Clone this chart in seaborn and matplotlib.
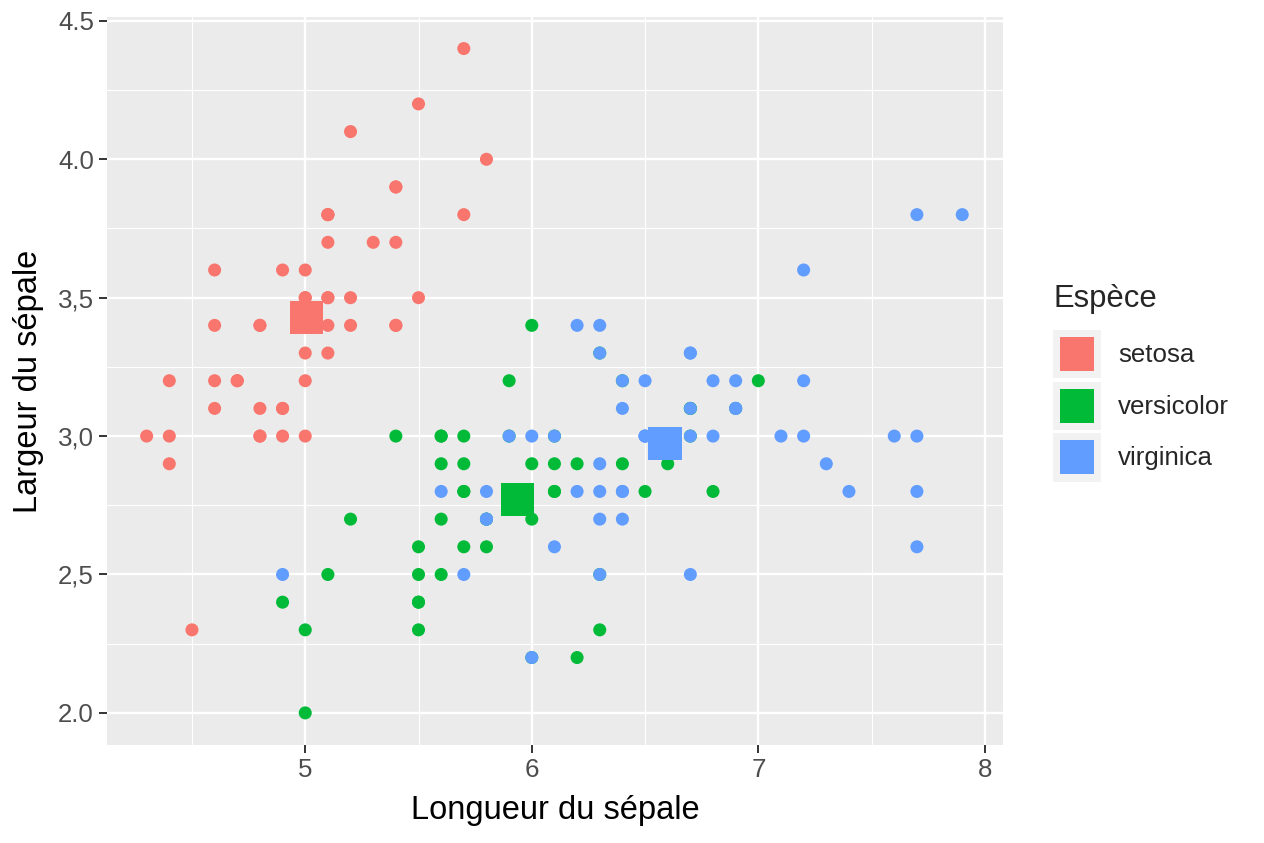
import numpy as np
import pandas as pd
import matplotlib
matplotlib.use("Agg")
import matplotlib.pyplot as plt
import seaborn as sns
from matplotlib.patches import Rectangle
from matplotlib.legend_handler import HandlerTuple, HandlerPatch

# ---------------- data ----------------
species = ["setosa", "versicolor", "virginica"]

setosa_len = [5.1, 4.9, 4.7, 4.6, 5.0, 5.4, 4.6, 5.0, 4.4, 4.9, 5.4, 4.8, 4.8, 4.3, 5.8, 5.7, 5.4,
              5.1, 5.7, 5.1, 5.4, 5.1, 4.6, 5.1, 4.8, 5.0, 5.0, 5.2, 5.2, 4.7, 4.8, 5.4, 5.2, 5.5,
              4.9, 5.0, 5.5, 4.9, 4.4, 5.1, 5.0, 4.5, 4.4, 5.0, 5.1, 4.8, 5.1, 4.6, 5.3, 5.0]
setosa_wid = [3.5, 3.0, 3.2, 3.1, 3.6, 3.9, 3.4, 3.4, 2.9, 3.1, 3.7, 3.4, 3.0, 3.0, 4.0, 4.4, 3.9,
              3.5, 3.8, 3.8, 3.4, 3.7, 3.6, 3.3, 3.4, 3.0, 3.4, 3.5, 3.4, 3.2, 3.1, 3.4, 4.1, 4.2,
              3.1, 3.2, 3.5, 3.6, 3.0, 3.4, 3.5, 2.3, 3.2, 3.5, 3.8, 3.0, 3.8, 3.2, 3.7, 3.3]

versicolor_len = [7.0, 6.4, 6.9, 5.5, 6.5, 5.7, 6.3, 4.9, 6.6, 5.2, 5.0, 5.9, 6.0, 6.1, 5.6, 6.7, 5.6,
                  5.8, 6.2, 5.6, 5.9, 6.1, 6.3, 6.1, 6.4, 6.6, 6.8, 6.7, 6.0, 5.7, 5.5, 5.5, 5.8, 6.0,
                  5.4, 6.0, 6.7, 6.3, 5.6, 5.5, 5.5, 6.1, 5.8, 5.0, 5.6, 5.7, 5.7, 6.2, 5.1, 5.7]
versicolor_wid = [3.2, 3.2, 3.1, 2.3, 2.8, 2.8, 3.3, 2.4, 2.9, 2.7, 2.0, 3.0, 2.2, 2.9, 2.9, 3.1, 3.0,
                  2.7, 2.2, 2.5, 3.2, 2.8, 2.5, 2.8, 2.9, 3.0, 2.8, 3.0, 2.9, 2.6, 2.4, 2.4, 2.7, 2.7,
                  3.0, 3.4, 3.1, 2.3, 3.0, 2.5, 2.6, 3.0, 2.6, 2.3, 2.7, 3.0, 2.9, 2.9, 2.5, 2.8]

virginica_len = [6.3, 5.8, 7.1, 6.3, 6.5, 7.6, 4.9, 7.3, 6.7, 7.2, 6.5, 6.4, 6.8, 5.7, 5.8, 6.4, 6.5,
                 7.7, 7.7, 6.0, 6.9, 5.6, 7.7, 6.3, 6.7, 7.2, 6.2, 6.1, 6.4, 7.2, 7.4, 7.9, 6.4, 6.3,
                 6.1, 7.7, 6.3, 6.4, 6.0, 6.9, 6.7, 6.9, 5.8, 6.8, 6.7, 6.7, 6.3, 6.5, 6.2, 5.9]
virginica_wid = [3.3, 2.7, 3.0, 2.9, 3.0, 3.0, 2.5, 2.9, 2.5, 3.6, 3.2, 2.7, 3.0, 2.5, 2.8, 3.2, 3.0,
                 3.8, 2.6, 2.2, 3.2, 2.8, 2.8, 2.7, 3.3, 3.2, 2.8, 3.0, 2.8, 3.0, 2.8, 3.8, 2.8, 2.8,
                 2.6, 3.0, 3.4, 3.1, 3.0, 3.1, 3.1, 3.1, 2.7, 3.2, 3.3, 3.0, 2.5, 3.0, 3.4, 3.0]

x_ticks = [5, 6, 7, 8]
x_tick_labels = ["5", "6", "7", "8"]
y_ticks = [2.0, 2.5, 3.0, 3.5, 4.0, 4.5]
y_tick_labels = ["2.0", "2,5", "3,0", "3,5", "4.0", "4.5"]

x_title = "Longueur du sépale"
y_title = "Largeur du sépale"
legend_title = "Espèce"

colors = ["#F8766D", "#00BA38", "#619CFF"]

# ---------------- frames ----------------
df = pd.DataFrame({
    "Longueur": setosa_len + versicolor_len + virginica_len,
    "Largeur": setosa_wid + versicolor_wid + virginica_wid,
    "Espèce": ["setosa"] * len(setosa_len) + ["versicolor"] * len(versicolor_len)
              + ["virginica"] * len(virginica_len),
})
centroids = df.groupby("Espèce", sort=False)[["Longueur", "Largeur"]].mean().reset_index()

# ---------------- style ----------------
sns.set_style("darkgrid", {"axes.facecolor": "#EBEBEB", "grid.color": "white"})
plt.rcParams["font.family"] = ["Liberation Sans", "DejaVu Sans"]

W, H = 1264, 843
fig = plt.figure(figsize=(W / 100, H / 100), dpi=100)
fig.patch.set_facecolor("white")
left, right, top, bottom = 107, 1003, 17, 745
ax = fig.add_axes([left / W, 1 - bottom / H, (right - left) / W, (bottom - top) / H])
ax.set_facecolor("#EBEBEB")

pal = dict(zip(species, colors))
sns.scatterplot(data=df, x="Longueur", y="Largeur", hue="Espèce", hue_order=species,
                palette=pal, s=88, linewidth=0, legend=False, ax=ax, zorder=3)
sns.scatterplot(data=centroids, x="Longueur", y="Largeur", hue="Espèce", hue_order=species,
                palette=pal, marker="s", s=580, linewidth=0, legend=False, ax=ax, zorder=4)

ax.set_xlim(4.125, 8.08)
ax.set_ylim(1.884, 4.514)
ax.set_xticks(x_ticks)
ax.set_xticklabels(x_tick_labels)
ax.set_yticks(y_ticks)
ax.set_yticklabels(y_tick_labels)
ax.set_xticks([4.5, 5.5, 6.5, 7.5], minor=True)
ax.set_yticks([2.25, 2.75, 3.25, 3.75, 4.25], minor=True)

ax.grid(which="major", color="white", linewidth=1.7)
ax.grid(which="minor", color="white", linewidth=0.85)
ax.set_axisbelow(True)
for sp in ax.spines.values():
    sp.set_visible(False)

ax.tick_params(which="major", length=5.8, width=1.4, color="#333333",
               labelsize=18.6, labelcolor="#4D4D4D", pad=3.6,
               bottom=True, left=True)
ax.tick_params(which="minor", length=0)

ax.set_xlabel(x_title, fontsize=23.5, color="black", labelpad=9)
ax.set_ylabel(y_title, fontsize=23.5, color="black", labelpad=10)


# legend: grey key background with a centred coloured square (ggplot style)
class KeySquare(Rectangle):
    pass


def centred_square(legend, orig_handle, xdescent, ydescent, width, height, fontsize):
    size = 24.5  # points
    cx = -xdescent + width / 2
    cy = -ydescent + height / 2
    return Rectangle((cx - size / 2, cy - size / 2), size, size)


handles = [(Rectangle((0, 0), 1, 1, facecolor="#F2F2F2", edgecolor="none"),
            KeySquare((0, 0), 1, 1, facecolor=c, edgecolor="none"))
           for c in colors]
leg = fig.legend(handles, species,
                 handler_map={tuple: HandlerTuple(ndivide=1),
                              KeySquare: HandlerPatch(patch_func=centred_square)},
                 title=legend_title, title_fontsize=22.3, fontsize=18.6,
                 frameon=False, loc="upper left",
                 bbox_to_anchor=(1053 / W, 1 - 284 / H), bbox_transform=fig.transFigure,
                 borderpad=0, borderaxespad=0, handlelength=1.86, handleheight=2.485,
                 labelspacing=0.14, handletextpad=0.66, alignment="left")
leg._legend_box.sep = 11.6

fig.savefig("out.png", dpi=100)
